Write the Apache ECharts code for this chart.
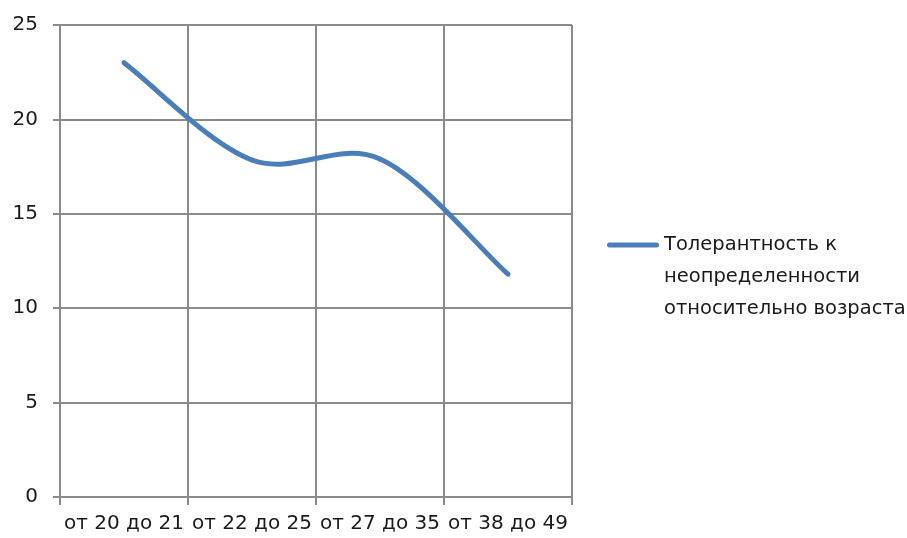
<!DOCTYPE html>
<html>
<head>
<meta charset="utf-8">
<script src="https://cdn.jsdelivr.net/npm/echarts@6/dist/echarts.min.js"></script>
<style>
  html, body { margin: 0; padding: 0; background: #fff; }
  #chart { width: 907px; height: 538px; }
</style>
</head>
<body>
<div id="chart"></div>
<script>
// Age groups and tolerance scores
const categories = ['от 20 до 21', 'от 22 до 25', 'от 27 до 35', 'от 38 до 49'];
const toleranceValues = [23, 17.85, 17.9, 11.8];
const yTicks = { min: 0, max: 25, step: 5 };
const seriesName = 'Толерантность к\nнеопределенности\nотносительно возраста';

const FONT = '"DejaVu Sans", "Noto Sans", sans-serif';
const GRID = '#8a8a8a';
const BLUE = '#4a7ebb';
const TEXT = '#1a1a1a';

// Legend swatch: a short bar at the top of a tall box, so the bar sits
// level with the first line of the three-line legend text.
const LEGEND_ICON = 'path://M2.5,0 L49.5,0 A2.5,2.5 0 0 1 49.5,5 L2.5,5 A2.5,2.5 0 0 1 2.5,0 Z M0,69 L0,69 M52,69 L52,69';

// Smooth curve through the points: cubic Bezier segments whose control
// points follow the neighbouring points (Catmull-Rom style, 1/6 inside,
// 1/4 at the open ends).
function controlPoints(pts, i) {
  const p0 = pts[i], p1 = pts[i + 1];
  const prev = pts[i - 1], next = pts[i + 2];
  const a = prev
    ? [p0[0] + (p1[0] - prev[0]) / 6, p0[1] + (p1[1] - prev[1]) / 6]
    : [p0[0] + (p1[0] - p0[0]) / 4, p0[1] + (p1[1] - p0[1]) / 4];
  const b = next
    ? [p1[0] - (next[0] - p0[0]) / 6, p1[1] - (next[1] - p0[1]) / 6]
    : [p1[0] - (p1[0] - p0[0]) / 4, p1[1] - (p1[1] - p0[1]) / 4];
  return [a, b];
}

function renderSegment(params, api) {
  const i = params.dataIndex;
  if (i >= toleranceValues.length - 1) return null;
  const pts = toleranceValues.map((v, k) => api.coord([k, v]));
  const [a, b] = controlPoints(pts, i);
  return {
    type: 'bezierCurve',
    shape: {
      x1: pts[i][0], y1: pts[i][1],
      x2: pts[i + 1][0], y2: pts[i + 1][1],
      cpx1: a[0], cpy1: a[1],
      cpx2: b[0], cpy2: b[1]
    },
    style: { stroke: BLUE, lineWidth: 5, fill: null, lineCap: 'round' },
    silent: true
  };
}

const chart = echarts.init(document.getElementById('chart'), null, { renderer: 'canvas' });
chart.setOption({
  backgroundColor: '#ffffff',
  animation: false,
  grid: { left: 60, right: 335, top: 25, bottom: 41, containLabel: false },
  legend: {
    show: true,
    left: 607,
    top: 229,
    padding: 0,
    itemWidth: 52,
    itemHeight: 69,
    icon: LEGEND_ICON,
    itemStyle: { color: BLUE },
    textStyle: { fontFamily: FONT, fontSize: 19.5, color: TEXT, lineHeight: 32 },
    data: [seriesName]
  },
  xAxis: {
    type: 'category',
    data: categories,
    boundaryGap: true,
    axisLine: { show: true, lineStyle: { color: GRID, width: 2 } },
    axisTick: { show: true, length: 8, lineStyle: { color: GRID, width: 2 } },
    axisLabel: { fontFamily: FONT, fontSize: 20, color: TEXT, margin: 17, interval: 0 },
    splitLine: { show: true, lineStyle: { color: GRID, width: 2 } }
  },
  yAxis: {
    type: 'value',
    min: yTicks.min, max: yTicks.max, interval: yTicks.step,
    axisLine: { show: true, lineStyle: { color: GRID, width: 2 } },
    axisTick: { show: true, length: 7, lineStyle: { color: GRID, width: 2 } },
    axisLabel: { fontFamily: FONT, fontSize: 20, color: TEXT, margin: 22 },
    splitLine: { show: true, lineStyle: { color: GRID, width: 2 } }
  },
  series: [{
    name: seriesName,
    type: 'custom',
    renderItem: renderSegment,
    encode: { x: 0, y: 1 },
    itemStyle: { color: BLUE },
    data: toleranceValues.map((v, k) => [k, v]),
    z: 3
  }]
});
</script>
</body>
</html>
